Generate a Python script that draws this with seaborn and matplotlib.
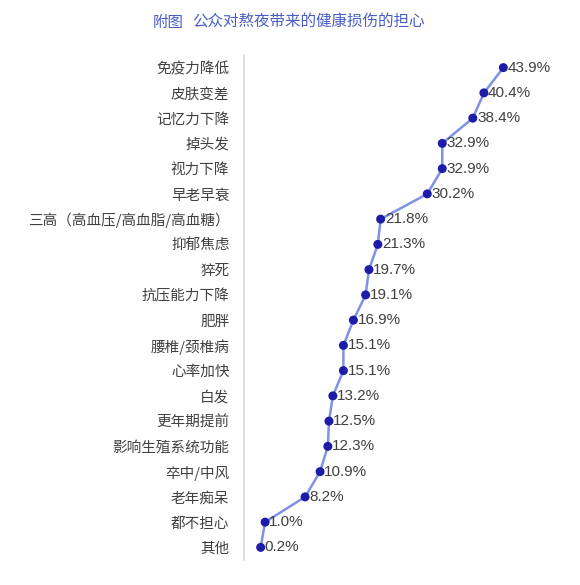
import matplotlib
matplotlib.use("Agg")
import matplotlib.pyplot as plt
import seaborn as sns
import pandas as pd

categories = ["免疫力降低", "皮肤变差", "记忆力下降", "掉头发", "视力下降", "早老早衰",
              "三高（高血压/高血脂/高血糖）", "抑郁焦虑", "猝死", "抗压能力下降", "肥胖",
              "腰椎/颈椎病", "心率加快", "白发", "更年期提前", "影响生殖系统功能",
              "卒中/中风", "老年痴呆", "都不担心", "其他"]
values = [43.9, 40.4, 38.4, 32.9, 32.9, 30.2, 21.8, 21.3, 19.7, 19.1, 16.9,
          15.1, 15.1, 13.2, 12.5, 12.3, 10.9, 8.2, 1.0, 0.2]
title_prefix = "附图"
title = "公众对熬夜带来的健康损伤的担心"

sns.set_theme(style="white")
plt.rcParams['font.family'] = ['Noto Sans CJK SC', 'DejaVu Sans']

df = pd.DataFrame({"cat": categories, "val": values, "pos": range(len(categories))})

fig = plt.figure(figsize=(5.8, 5.85), dpi=100)
ax = fig.add_axes([244/580, 1 - 560/585, (560-244)/580, (560-55)/585])

sns.lineplot(data=df, x="val", y="pos", sort=False, ax=ax, color="#7f92e3",
             linewidth=1.8, estimator=None, orient="y")
sns.scatterplot(data=df, x="val", y="pos", ax=ax, color="#1c1ca8", s=42,
                edgecolor="none", zorder=4)

for p, v in zip(df["pos"], df["val"]):
    ax.text(v + 0.75, p, f"{v:.1f}%", va="center", ha="left", fontsize=11,
            color="#404040", family=["Liberation Sans", "DejaVu Sans"], zorder=3)

ax.set_xlim(-2.8, 54.1)
ax.set_ylim(19.5, -0.5)
ax.set_yticks(range(len(categories)))
ax.set_yticklabels(categories, fontsize=10.5, color="#404040")
ax.tick_params(axis="y", length=0, pad=10.5)
ax.set_xticks([])
ax.set_xlabel("")
ax.set_ylabel("")
for s in ["top", "right", "bottom"]:
    ax.spines[s].set_visible(False)
ax.spines["left"].set_color("#d9d9d9")
ax.spines["left"].set_linewidth(1.2)

fig.text(153/580, 1 - 22/585, title_prefix, fontsize=11.2, color="#4a5cc8",
         ha="left", va="center")
fig.text(425/580, 1 - 22/585, title, fontsize=11.2, color="#4a5cc8",
         ha="right", va="center")

fig.savefig("out.png", dpi=100)
